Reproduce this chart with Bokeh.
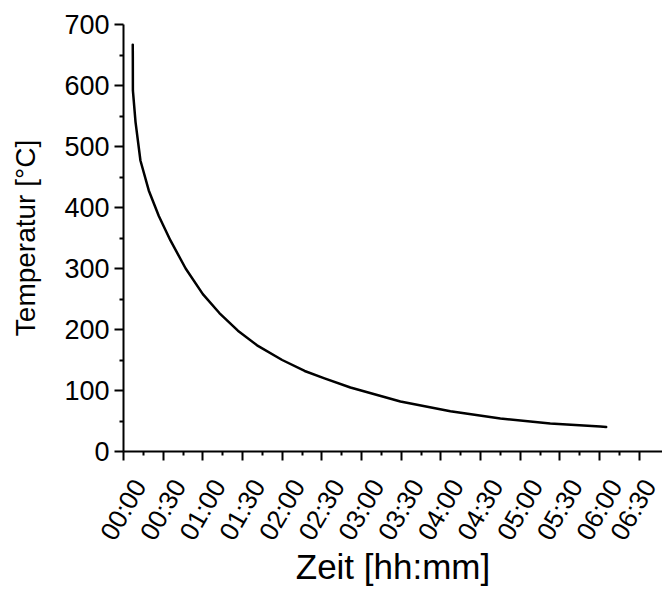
import math
from bokeh.plotting import figure
from bokeh.models import FixedTicker, Range1d, ColumnDataSource, LinearAxis
from bokeh.embed import file_html
from bokeh.resources import INLINE

# time in minutes since start, temperature in °C
minutes = [7.0, 7.05, 7.1, 9.1, 12.8, 19.1, 26.7, 35.5, 47.0, 60.0, 72.5,
           86.5, 101.0, 120.0, 137.0, 152.0, 171.6, 209.4, 247.2, 285.0,
           322.7, 360.5, 365.0]
temperature = [667, 646, 592, 540, 477, 428, 386, 346, 300, 258, 227,
               198, 174, 150, 132, 120, 105, 82, 66, 54,
               46, 41, 40]

x_ticks = [0, 30, 60, 90, 120, 150, 180, 210, 240, 270, 300, 330, 360, 390]
x_tick_labels = ["00:00", "00:30", "01:00", "01:30", "02:00", "02:30", "03:00",
                 "03:30", "04:00", "04:30", "05:00", "05:30", "06:00", "06:30"]
x_minor_ticks = [15, 45, 75, 105, 135, 165, 195, 225, 255, 285, 315, 345, 375]
y_ticks = [0, 100, 200, 300, 400, 500, 600, 700]
y_minor_ticks = [50, 150, 250, 350, 450, 550, 650]

FONT = "Liberation Sans"
W, H = 662, 589
LEFT, RIGHT, TOP, BOTTOM = 123, 0, 24, 138
X_END = 407.6

p = figure(width=W, height=H, output_backend="svg", toolbar_location=None,
           x_range=Range1d(0, X_END), y_range=Range1d(0, 700),
           min_border_left=LEFT, min_border_right=RIGHT, min_border_top=TOP,
           min_border_bottom=BOTTOM)
p.outline_line_color = None
p.grid.visible = False
p.background_fill_color = "white"
p.border_fill_color = "white"

src = ColumnDataSource(dict(x=minutes, y=temperature))
p.line("x", "y", source=src, line_color="black", line_width=2.5,
       line_join="round", line_cap="round")

# main x axis: line and ticks only
xa = p.below[0]
xa.ticker = FixedTicker(ticks=x_ticks, minor_ticks=x_minor_ticks)
xa.major_label_overrides = {t: "" for t in x_ticks}
xa.major_label_text_font_size = "0px"
xa.major_label_standoff = 0

# label axis, shifted so the rotated labels are centred under their ticks
shift_px = 16
d = shift_px * X_END / (W - LEFT - RIGHT)
p.extra_x_ranges = {"labels": Range1d(-d, X_END - d)}
la = LinearAxis(x_range_name="labels",
                ticker=FixedTicker(ticks=x_ticks, minor_ticks=[]))
la.major_label_overrides = {t: l for t, l in zip(x_ticks, x_tick_labels)}
la.major_label_orientation = math.pi / 3
la.major_label_text_font_size = "26px"
la.major_label_text_font = FONT
la.major_label_text_color = "black"
la.major_label_standoff = 21
la.axis_line_color = None
la.major_tick_line_color = None
la.minor_tick_line_color = None
la.major_tick_out = 0
la.major_tick_in = 0
la.minor_tick_out = 0
la.minor_tick_in = 0
la.axis_label = "Zeit [hh:mm]"
la.axis_label_text_font = FONT
la.axis_label_text_font_size = "35px"
la.axis_label_text_font_style = "normal"
la.axis_label_text_color = "black"
la.axis_label_standoff = -9
p.add_layout(la, "below")

ya = p.left[0]
ya.ticker = FixedTicker(ticks=y_ticks, minor_ticks=y_minor_ticks)
ya.axis_label = "Temperatur [°C]"
ya.axis_label_text_font_size = "28px"
ya.major_label_text_font_size = "27px"
ya.axis_label_standoff = 20
ya.axis_label_text_font = FONT
ya.axis_label_text_font_style = "normal"
ya.axis_label_text_color = "black"
ya.major_label_text_font = FONT
ya.major_label_text_color = "black"
ya.major_label_standoff = 5

for ax in (xa, ya):
    ax.axis_line_width = 2
    ax.axis_line_color = "black"
    ax.major_tick_line_width = 2
    ax.minor_tick_line_width = 2
    ax.major_tick_line_color = "black"
    ax.minor_tick_line_color = "black"
    ax.major_tick_in = 0
    ax.major_tick_out = 9
    ax.minor_tick_in = 0
    ax.minor_tick_out = 4

open("out.html", "w").write(file_html(p, INLINE))
